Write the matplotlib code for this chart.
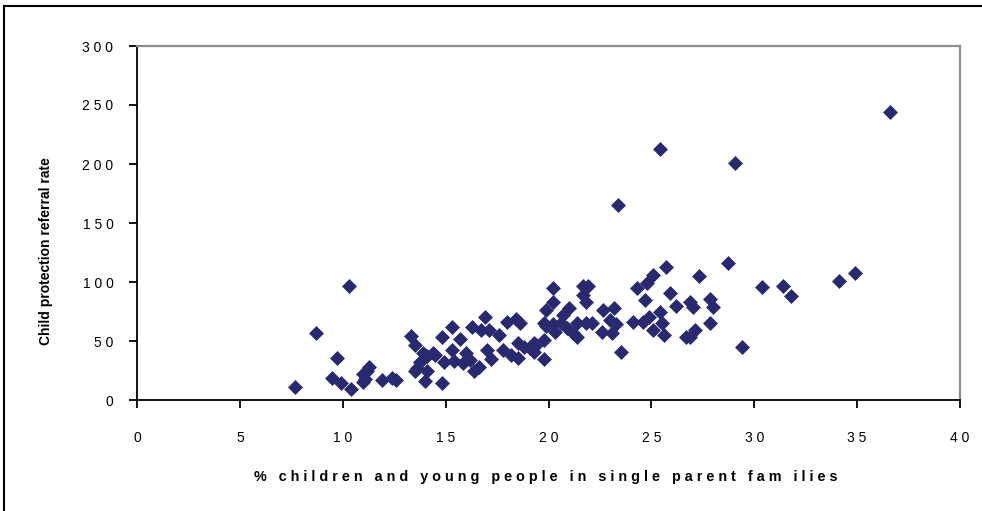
import matplotlib
matplotlib.use("Agg")
import matplotlib.pyplot as plt
from matplotlib.lines import Line2D

# % children and young people in single parent families
pct = [7.7, 8.7, 9.5, 9.7, 9.9, 10.3, 10.4, 11.0, 11.0, 11.1, 11.2, 11.3, 11.9, 12.4, 12.6,
       13.3, 13.5, 13.5, 13.6, 13.75, 13.9, 14.0, 14.1, 14.1, 14.4, 14.5, 14.8, 14.8, 14.9,
       15.3, 15.3, 15.4, 15.7, 15.85, 16.0, 16.2, 16.3, 16.4, 16.6, 16.7, 16.9, 17.0, 17.1, 17.2,
       17.6, 17.8, 18.0, 18.2, 18.4, 18.5, 18.5, 18.6, 18.8, 19.1, 19.3, 19.3, 19.4, 19.8, 19.8,
       19.8, 19.9, 19.9,
       20.2, 20.2, 20.2, 20.3, 20.6, 20.7, 20.9, 21.0, 21.2, 21.4, 21.4, 21.7, 21.7, 21.8, 21.8,
       21.9, 22.1,
       22.6, 22.65, 23.0, 23.1, 23.2, 23.3, 23.4, 23.5, 24.1, 24.3, 24.6, 24.7, 24.8, 24.9, 25.1,
       25.1, 25.4, 25.4, 25.5, 25.6, 25.7, 25.9, 26.2, 26.7, 26.9, 26.9, 27.0, 27.1, 27.3, 27.85,
       27.85, 28.0, 28.7, 29.06, 29.4, 30.4, 31.4, 31.8, 34.1, 34.9, 36.6]

# child protection referral rate
rate = [11, 57, 19, 36, 14, 97, 9, 15, 22, 18, 25, 28, 17, 19, 17,
        54, 47, 25, 27, 32, 40, 16, 25, 37, 40, 38, 14, 53, 32,
        62, 42, 33, 52, 31, 40, 34, 62, 25, 28, 59, 70, 42, 59, 35,
        55, 42, 66, 38, 69, 48, 36, 65, 45, 44, 48, 41, 47, 35, 51,
        65, 76, 63,
        95, 83, 64, 58, 65, 72, 61, 78, 57, 65, 53, 97, 89, 83, 65,
        97, 65,
        58, 76, 68, 57, 78, 64, 165, 41, 66, 95, 66, 85, 99, 70, 106,
        59, 213, 75, 65, 55, 113, 91, 80, 53, 83, 53, 79, 59, 105, 86,
        65, 79, 116, 201, 45, 96, 97, 88, 101, 108, 244]

xticks = [0, 5, 10, 15, 20, 25, 30, 35, 40]
yticks = [0, 50, 100, 150, 200, 250, 300]


def spaced(s):
    return " ".join(s)


plt.rcParams['font.family'] = ['Liberation Sans', 'DejaVu Sans']

fig = plt.figure(figsize=(9.82, 5.11), dpi=100)
ax = fig.add_axes([137 / 982, 111 / 511, 823 / 982, 354 / 511])

ax.scatter(pct, rate, marker="D", s=58, color="#29296f", linewidths=0, zorder=3)

ax.set_xlim(0, 40)
ax.set_ylim(0, 300)
ax.set_xticks(xticks)
ax.set_yticks(yticks)
ax.set_xticklabels([spaced(str(t)) for t in xticks], fontsize=10)
ax.set_yticklabels([spaced(str(t)) for t in yticks], fontsize=10)
ax.tick_params(axis="x", direction="out", length=6, width=1.3, pad=16)
ax.tick_params(axis="y", direction="out", length=6, width=1.3, pad=11)

ax.spines["left"].set_color("black")
ax.spines["bottom"].set_color("black")
ax.spines["left"].set_linewidth(1.3)
ax.spines["bottom"].set_linewidth(1.3)
ax.spines["top"].set_color("#8c8c8c")
ax.spines["right"].set_color("#8c8c8c")
ax.spines["top"].set_linewidth(1.6)
ax.spines["right"].set_linewidth(1.6)

fig.text(46 / 982, 1 - 251 / 511, "Child protection referral rate", rotation=90,
         ha="center", va="center", fontsize=10, fontweight="bold")
fig.text(546 / 982, 1 - 477 / 511,
         "   ".join(spaced(w) for w in "% children and young people in single parent fam ilies".split(" ")),
         ha="center", va="center", fontsize=10.4, fontweight="bold")

# outer frame (left and top edges visible)
fig.add_artist(Line2D([4 / 982, 4 / 982], [0, 1 - 6 / 511], transform=fig.transFigure,
                      color="black", linewidth=1.5))
fig.add_artist(Line2D([4 / 982, 1], [1 - 6 / 511, 1 - 6 / 511], transform=fig.transFigure,
                      color="black", linewidth=1.5))

fig.savefig("out.png", dpi=100)
